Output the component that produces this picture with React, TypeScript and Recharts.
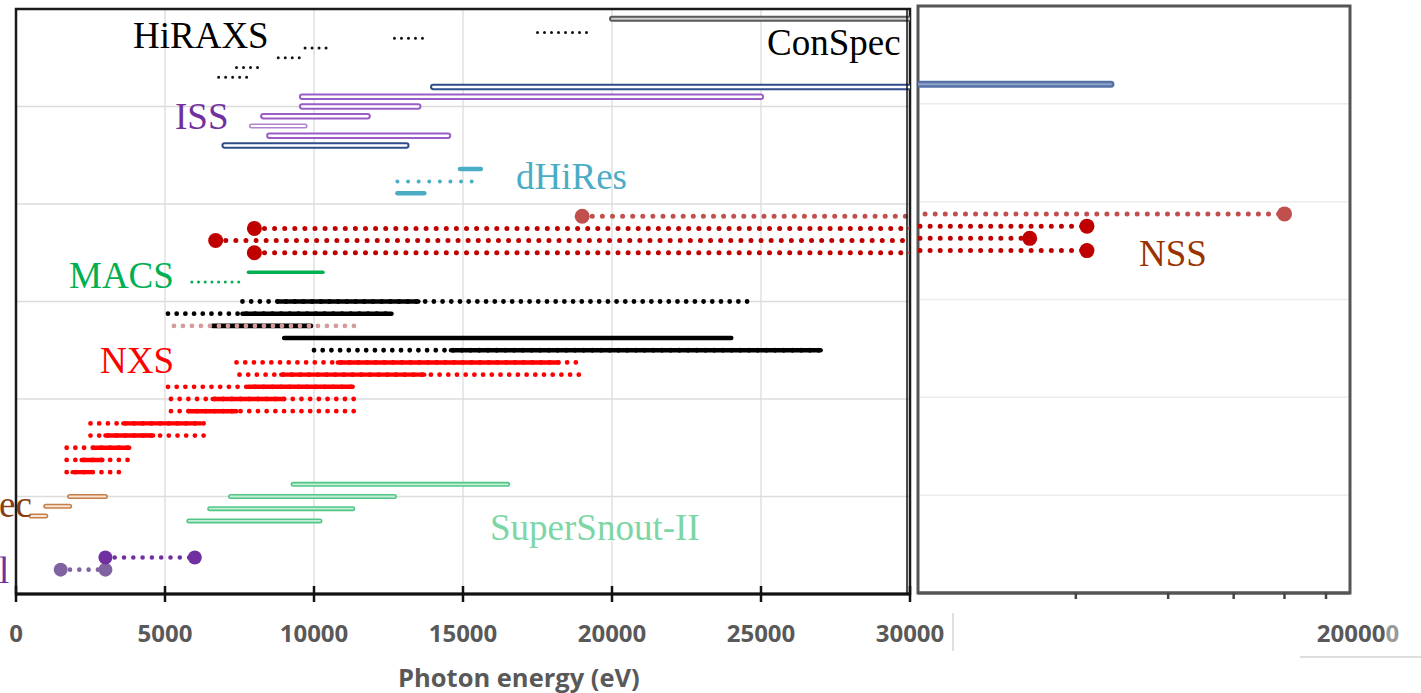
import React from 'react';
import { ComposedChart, Line, XAxis, YAxis, CartesianGrid, ReferenceArea } from 'recharts';

// each range: [start eV, end eV, row level]
type Range = [number, number, number];

const hiraxs: Range[] = [
  [17500, 19300, 5.76],
  [12700, 13800, 5.7],
  [9700, 10600, 5.6],
  [8800, 9700, 5.5],
  [7400, 8300, 5.4],
  [6800, 7800, 5.3],
];
const conSpec: Range[] = [[20000, 30000, 5.9]];
const issBlue: Range[] = [
  [14000, 70000, 5.2],
  [7000, 13100, 4.6],
];
const issPurple: Range[] = [
  [9600, 25000, 5.1],
  [9600, 13500, 5.0],
  [8300, 11800, 4.9],
  [8500, 14500, 4.7],
];
const issPurpleThin: Range[] = [[7900, 9700, 4.8]];
const dHiResSolid: Range[] = [
  [14900, 15600, 4.36],
  [12800, 13700, 4.11],
];
const dHiResDotted: Range[] = [[12800, 15600, 4.23]];
const nssPale: Range[] = [[19000, 150000, 3.875]];
const nssRed: Range[] = [
  [8000, 63000, 3.75],
  [6700, 49000, 3.625],
  [8000, 63000, 3.5],
];
const macsSolid: Range[] = [[7800, 10300, 3.3]];
const macsDotted: Range[] = [[5900, 7500, 3.2]];
const blackSolid: Range[] = [
  [8800, 13500, 3.0],
  [7600, 12600, 2.875],
  [6600, 9900, 2.75],
  [9000, 24000, 2.625],
  [14600, 27000, 2.5],
];
const blackDotted: Range[] = [
  [7600, 24800, 3.0],
  [5100, 12600, 2.875],
  [10000, 27000, 2.5],
];
const pinkDotted: Range[] = [[5300, 11400, 2.75]];
const nxsSolid: Range[] = [
  [10800, 18200, 2.375],
  [8900, 13700, 2.25],
  [7800, 11300, 2.125],
  [6600, 9000, 2.0],
  [5800, 7400, 1.875],
  [3600, 6200, 1.75],
  [3000, 4600, 1.625],
  [2600, 3800, 1.5],
  [2200, 2900, 1.375],
  [1900, 2500, 1.25],
];
const nxsDotted: Range[] = [
  [7400, 18800, 2.375],
  [7500, 18900, 2.25],
  [5100, 11300, 2.125],
  [5200, 11400, 2.0],
  [5200, 11400, 1.875],
  [2500, 6300, 1.75],
  [2500, 6300, 1.625],
  [1700, 3800, 1.5],
  [1700, 3800, 1.375],
  [1700, 3500, 1.25],
];
const resSpec: Range[] = [
  [1800, 3000, 1.0],
  [1000, 1800, 0.9],
  [500, 1000, 0.8],
];
const superSnout: Range[] = [
  [9300, 16500, 1.125],
  [7200, 12700, 1.0],
  [6500, 11300, 0.875],
  [5800, 10200, 0.75],
];
const bottomDark: Range[] = [[3000, 6000, 0.375]];
const bottomLight: Range[] = [[1500, 3000, 0.25]];

const leftTicks = [0, 5000, 10000, 15000, 20000, 25000, 30000];
const rightTicks = [60000, 90000, 120000, 150000, 180000];
const rows = [0, 1, 2, 3, 4, 5, 6];

const SERIF = '"Liberation Serif", "Times New Roman", serif';
const SANS = '"Open Sans", sans-serif';

type Look = { color: string; width: number; gap?: number; core?: string; coreWidth?: number; end?: number };

const looks: Record<string, Look> = {
  hiraxs: { color: '#111', width: 3, gap: 7 },
  conSpec: { color: '#5a5a5a', width: 6, core: '#cfcfcf', coreWidth: 2 },
  blue: { color: '#2e4d8a', width: 6.3, core: '#ffffff', coreWidth: 2.3 },
  blueRight: { color: '#5571a6', width: 7, core: '#90a4ca', coreWidth: 2.2 },
  purple: { color: '#9a5cc6', width: 6.3, core: '#ffffff', coreWidth: 2.3 },
  purpleThin: { color: '#b183d3', width: 5, core: '#ffffff', coreWidth: 1.8 },
  cyanSolid: { color: '#4bacc6', width: 4.5 },
  cyanDots: { color: '#4bacc6', width: 4, gap: 10.6 },
  nssPale: { color: '#c0504d', width: 5, gap: 10.1, end: 7.5 },
  nssRed: { color: '#c00000', width: 5, gap: 10.1, end: 7.5 },
  macsSolid: { color: '#00b050', width: 3.6 },
  macsDots: { color: '#00b050', width: 3, gap: 6.7 },
  blackSolid: { color: '#000', width: 4.6 },
  blackDots: { color: '#000', width: 4.8, gap: 8.7 },
  pinkDots: { color: '#d49c9c', width: 4.8, gap: 9 },
  redSolid: { color: '#ff0000', width: 4.4 },
  redDots: { color: '#ff0000', width: 4.8, gap: 8.7 },
  resSpec: { color: '#c67e48', width: 5, core: '#f6e4d6', coreWidth: 1.8 },
  superSnout: { color: '#52c687', width: 5, core: '#c4eed5', coreWidth: 1.8 },
  bottomDark: { color: '#7030a0', width: 4.6, gap: 9.3, end: 7 },
  bottomLight: { color: '#8064a2', width: 4.6, gap: 9.3, end: 7 },
};

function bars(list: Range[], look: Look, key: string) {
  const out: React.ReactElement[] = [];
  list.forEach((r, i) => {
    const pts = [
      { x: r[0], y: r[2] },
      { x: r[1], y: r[2] },
    ];
    out.push(
      <Line
        key={`${key}-${i}`}
        data={pts}
        dataKey="y"
        type="linear"
        stroke={look.color}
        strokeWidth={look.width}
        strokeLinecap="round"
        strokeDasharray={look.gap ? `0 ${look.gap}` : undefined}
        dot={look.end ? { r: look.end, fill: look.color, stroke: 'none', strokeWidth: 0 } : false}
        activeDot={false}
        isAnimationActive={false}
      />
    );
    if (look.core) {
      out.push(
        <Line
          key={`${key}-${i}-core`}
          data={pts}
          dataKey="y"
          type="linear"
          stroke={look.core}
          strokeWidth={look.coreWidth}
          strokeLinecap="round"
          dot={false}
          activeDot={false}
          isAnimationActive={false}
        />
      );
    }
  });
  return out;
}

const LeftTick = (props: any) => {
  const { x, y, payload } = props;
  return (
    <g>
      <line x1={x} x2={x} y1={y - 8} y2={y + 8} stroke="#111" strokeWidth={2.5} />
      <text x={x} y={y + 48} textAnchor="middle" fontFamily={SANS} fontWeight={700} fontSize={24} fill="#595959">
        {payload.value}
      </text>
    </g>
  );
};

const RightTick = (props: any) => {
  const { x, y } = props;
  return <line x1={x} x2={x} y1={y} y2={y + 6} stroke="#444" strokeWidth={2.5} />;
};

const beyond = (list: Range[]) => list.filter((r) => r[1] > 30000);

const labels = [
  { text: 'HiRAXS', x: 133, y: 48, color: '#000' },
  { text: 'ConSpec', x: 767, y: 55, color: '#000' },
  { text: 'ISS', x: 175, y: 129, color: '#7030a0' },
  { text: 'dHiRes', x: 516, y: 189, color: '#4bacc6' },
  { text: 'MACS', x: 69, y: 288, color: '#00b050' },
  { text: 'NSS', x: 1139, y: 266, color: '#993300' },
  { text: 'NXS', x: 100, y: 373, color: '#ff0000' },
  { text: 'ec', x: -1, y: 517, color: '#8b3d0f' },
  { text: 'SuperSnout-II', x: 490, y: 540, color: '#7dd6a5' },
  { text: 'l', x: -1, y: 583, color: '#7030a0' },
];

export default function App() {
  return (
    <div style={{ position: 'absolute', left: 0, top: 0, width: 1421, height: 693, background: '#fff', overflow: 'hidden' }}>
      <div style={{ position: 'absolute', left: 0, top: 0 }}>
        <ComposedChart width={960} height={693} margin={{ top: 9, right: 50, bottom: 59, left: 16 }}>
          <CartesianGrid stroke="#dcdcdc" strokeWidth={1.3} />
          <XAxis
            type="number"
            dataKey="x"
            domain={[0, 30000]}
            ticks={leftTicks}
            allowDataOverflow
            interval={0}
            height={40}
            tickSize={0}
            tickMargin={0}
            tickLine={false}
            axisLine={{ stroke: '#111', strokeWidth: 3 }}
            tick={<LeftTick />}
          />
          <YAxis type="number" dataKey="y" domain={[0, 6]} ticks={rows} allowDataOverflow hide />
          {bars(hiraxs, looks.hiraxs, 'hiraxs')}
          {bars(conSpec, looks.conSpec, 'conspec')}
          {bars(issBlue, looks.blue, 'issblue')}
          {bars(issPurple, looks.purple, 'isspurple')}
          {bars(issPurpleThin, looks.purpleThin, 'isspurplethin')}
          {bars(dHiResDotted, looks.cyanDots, 'dhiresdots')}
          {bars(dHiResSolid, looks.cyanSolid, 'dhiressolid')}
          {bars(nssPale, looks.nssPale, 'nsspale')}
          {bars(nssRed, looks.nssRed, 'nssred')}
          {bars(macsSolid, looks.macsSolid, 'macssolid')}
          {bars(macsDotted, looks.macsDots, 'macsdots')}
          {bars(blackSolid, looks.blackSolid, 'blacksolid')}
          {bars(blackDotted, looks.blackDots, 'blackdots')}
          {bars(pinkDotted, looks.pinkDots, 'pinkdots')}
          {bars(nxsSolid, looks.redSolid, 'nxssolid')}
          {bars(nxsDotted, looks.redDots, 'nxsdots')}
          {bars(resSpec, looks.resSpec, 'resspec')}
          {bars(superSnout, looks.superSnout, 'supersnout')}
          {bars(bottomLight, looks.bottomLight, 'bottomlight')}
          {bars(bottomDark, looks.bottomDark, 'bottomdark')}
          <ReferenceArea x1={0} x2={30000} y1={0} y2={6} fill="none" stroke="#1a1a1a" strokeWidth={2.5} />
        </ComposedChart>
      </div>
      <div style={{ position: 'absolute', left: 900, top: 0 }}>
        <ComposedChart width={521} height={693} margin={{ top: 6, right: 71, bottom: 60, left: 18 }}>
          <CartesianGrid vertical={false} stroke="#ececec" strokeWidth={1.5} />
          <XAxis
            type="number"
            dataKey="x"
            scale="log"
            domain={[30000, 200000]}
            ticks={rightTicks}
            allowDataOverflow
            interval={0}
            height={40}
            tickSize={0}
            tickMargin={0}
            tickLine={false}
            axisLine={{ stroke: '#555', strokeWidth: 3 }}
            tick={<RightTick />}
          />
          <YAxis type="number" dataKey="y" domain={[0, 6]} ticks={rows} allowDataOverflow hide />
          {bars(beyond(issBlue), looks.blueRight, 'r-issblue')}
          {bars(beyond(nssPale), looks.nssPale, 'r-nsspale')}
          {bars(beyond(nssRed), looks.nssRed, 'r-nssred')}
          <ReferenceArea x1={30000} x2={200000} y1={0} y2={6} fill="none" stroke="#555" strokeWidth={3} />
        </ComposedChart>
      </div>
      <svg width={1421} height={693} style={{ position: 'absolute', left: 0, top: 0, pointerEvents: 'none' }}>
        <line x1={907} x2={907} y1={9} y2={594} stroke="#111" strokeWidth={1.5} />
        {labels.map((l) => (
          <text key={l.text} x={l.x} y={l.y} fontFamily={SERIF} fontSize={37} fill={l.color}>
            {l.text}
          </text>
        ))}
        <text x={1358} y={642} textAnchor="middle" fontFamily={SANS} fontWeight={700} fontSize={24} fill="#595959">
          20000<tspan fill="#9a9a9a">0</tspan>
        </text>
        <line x1={953} x2={953} y1={613} y2={651} stroke="#d6d6d6" strokeWidth={1.5} />
        <line x1={1300} x2={1421} y1={657} y2={657} stroke="#dddddd" strokeWidth={2} />
        <text x={398} y={687} fontFamily={SANS} fontWeight={700} fontSize={25.5} fill="#595959">
          Photon energy (eV)
        </text>
      </svg>
    </div>
  );
}
